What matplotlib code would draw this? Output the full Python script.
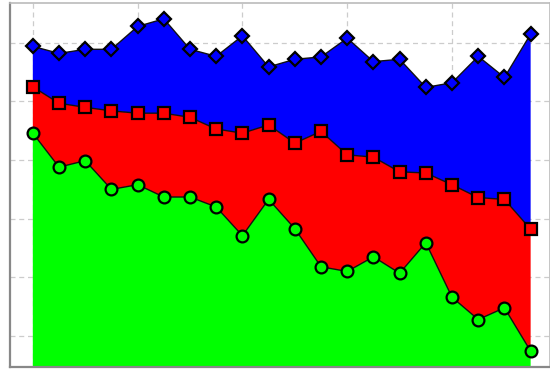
import numpy as np
import matplotlib
matplotlib.use("Agg")
import matplotlib.pyplot as plt

# 20 samples, three stacked series (bottom -> top)
x = np.arange(20)
green = [44.6, 38.8, 39.9, 35.0, 35.8, 33.7, 33.7, 32.0, 27.1, 33.3,
         28.3, 21.8, 21.0, 23.5, 20.7, 25.9, 16.6, 12.8, 14.8, 7.4]
red = [7.9, 10.9, 9.1, 13.4, 12.2, 14.3, 13.6, 13.3, 17.5, 12.7,
       14.6, 23.1, 19.9, 17.0, 17.3, 11.9, 19.2, 20.8, 18.5, 20.8]
blue = [6.9, 8.5, 9.9, 10.5, 14.8, 16.1, 11.6, 12.4, 16.6, 9.9,
        14.3, 12.7, 19.9, 16.3, 19.2, 14.6, 17.4, 24.1, 20.8, 33.3]

colors = ['#00ff00', '#ff0000', '#0000ff']
markers = ['o', 's', 'D']
msizes = [8.5, 8.5, 7.5]

fig = plt.figure(figsize=(5.5, 3.69), dpi=100)
ax = fig.add_axes([9.5 / 550, 2 / 369, 540 / 550, 364 / 369])

ax.stackplot(x, green, red, blue, colors=colors, linewidth=0, zorder=2)

tops = np.cumsum([green, red, blue], axis=0)
for top, c, m, ms in zip(tops, colors, markers, msizes):
    ax.plot(x, top, color='#111111', lw=1.0, marker=m, markersize=ms,
            markerfacecolor=c, markeredgecolor='black', markeredgewidth=1.6,
            zorder=3, clip_on=False)

ax.set_xlim(-0.89, 19.72)
ax.set_ylim(4.7, 66.8)
ax.set_xticks([0, 4, 8, 12, 16])
ax.set_yticks([10, 20, 30, 40, 50, 60])
ax.tick_params(length=0, labelleft=False, labelbottom=False)
ax.grid(True, color='#cccccc', linestyle=(0, (4, 3)), linewidth=0.9, zorder=1)
ax.set_axisbelow(True)

for side in ['left', 'bottom']:
    ax.spines[side].set_color('#888888')
    ax.spines[side].set_linewidth(1.6)
for side in ['top', 'right']:
    ax.spines[side].set_color('#bbbbbb')
    ax.spines[side].set_linewidth(1.2)

fig.savefig('out.png', dpi=100)
